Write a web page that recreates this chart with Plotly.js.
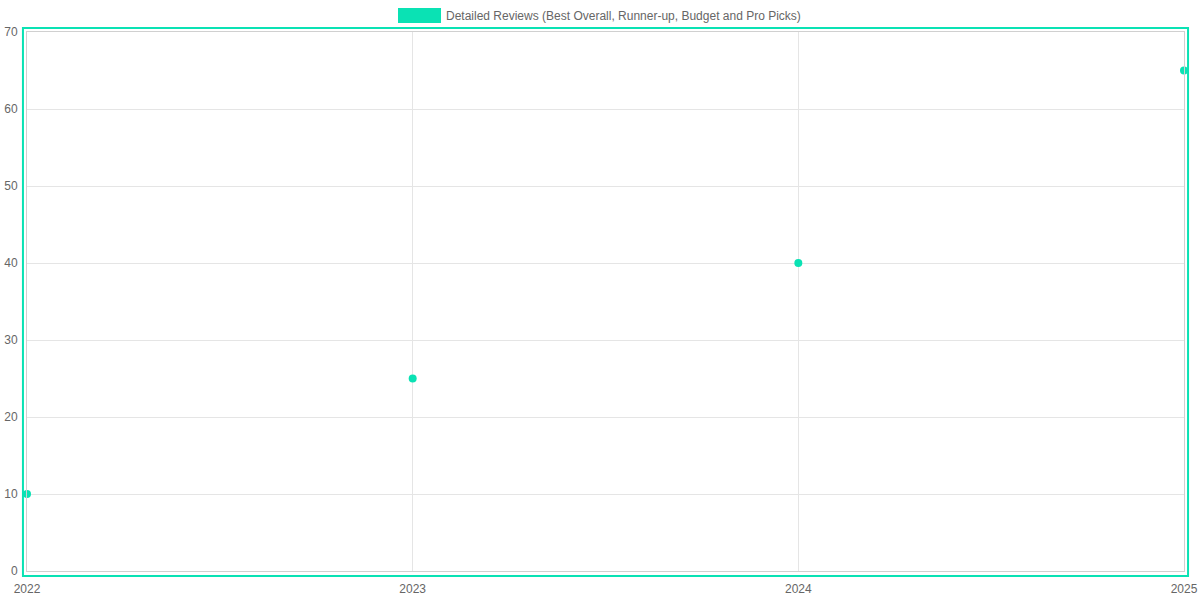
<!DOCTYPE html>
<html>
<head>
<meta charset="utf-8">
<script src="https://cdn.plot.ly/plotly-3.0.1.min.js"></script>
<style>
  html, body { margin: 0; padding: 0; background: #fff; }
  #plot { width: 1200px; height: 600px; }
</style>
</head>
<body>
<div id="plot"></div>
<script>
// data
var years = [2022, 2023, 2024, 2025];
var reviews = [10, 25, 40, 65];
var seriesName = "Detailed Reviews (Best Overall, Runner-up, Budget and Pro Picks)";
var teal = "rgb(10,226,180)";

var trace = {
  x: years,
  y: reviews,
  name: seriesName,
  type: "scatter",
  mode: "markers",
  marker: { color: teal, size: 8 },
  showlegend: false,
  cliponaxis: false
};

var layout = {
  width: 1200,
  height: 600,
  margin: { l: 27, r: 16, t: 32, b: 29 },
  paper_bgcolor: "#fff",
  plot_bgcolor: "#fff",
  font: { family: "Liberation Sans, Arial, sans-serif", size: 12, color: "#666" },
  xaxis: {
    range: [2022, 2025],
    tickvals: years,
    ticktext: years.map(String),
    showgrid: true,
    gridcolor: "#e5e5e5",
    zeroline: false,
    showline: true,
    linecolor: "#d0d0d0",
    mirror: true,
    ticks: "",
    ticklabelstandoff: 7
  },
  yaxis: {
    range: [0, 70],
    dtick: 10,
    showgrid: true,
    gridcolor: "#e5e5e5",
    zeroline: false,
    showline: true,
    linecolor: "#d0d0d0",
    mirror: true,
    ticks: "",
    ticklabelstandoff: 6
  },
  shapes: [
    // teal frame around the chart area
    {
      type: "rect", xref: "paper", yref: "paper",
      x0: -0.0035, x1: 1.0035, y0: -0.0093, y1: 1.0074,
      line: { color: teal, width: 2 }, fillcolor: "rgba(0,0,0,0)"
    },
    // legend swatch
    {
      type: "rect", xref: "paper", yref: "paper",
      x0: (398 - 27) / 1157, x1: (441 - 27) / 1157,
      y0: (571 - 23) / 539, y1: (571 - 8) / 539,
      line: { width: 0 }, fillcolor: teal
    }
  ],
  annotations: [
    {
      xref: "paper", yref: "paper",
      x: (444 - 27) / 1157, y: (571 - 16) / 539,
      xanchor: "left", yanchor: "middle",
      text: seriesName, showarrow: false,
      font: { size: 12, color: "#666" }
    }
  ]
};

Plotly.newPlot("plot", [trace], layout, { displayModeBar: false, staticPlot: true });
</script>
</body>
</html>
